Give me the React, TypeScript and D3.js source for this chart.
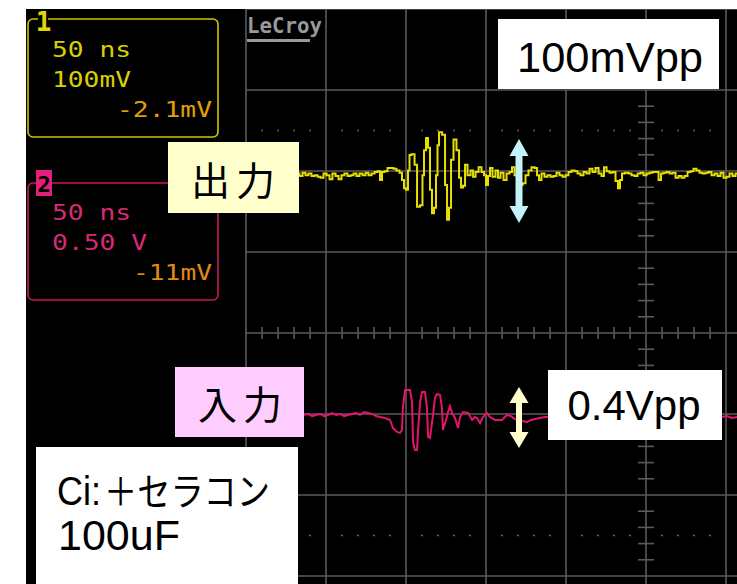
import React from "react";
import * as d3 from "d3";

// ---- Data ----
// Channel 1 (output): time in ns from left edge of graticule, value in mV
const ch1Time = [32.5,34.4,36.3,38.1,40,41.9,43.8,45.6,47.5,49.4,51.3,53.1,55,56.9,58.8,60.6,62.5,64.4,66.3,68.1,70,71.9,73.8,75.6,77.5,79.4,81.3,83.1,84.4,85.6,87.5,89.4,91.3,93.1,95,96.9,98.1,99.4,100.6,101.9,102.5,104.4,106.3,107.5,110,110.6,111.9,113.1,114.4,115.6,116.9,118.1,119.4,120,121.3,123.8,125,126.3,127.5,128.8,130.6,132.5,133.8,135,136.3,137.5,139.4,141.3,142.5,144.4,146.3,148.1,149.4,150.6,151.9,153.1,155,156.9,158.1,160,161.9,163.8,165.6,166.9,168.8,170.6,171.9,173.8,175.6,177.5,179.4,181.3,182.5,183.8,185.6,187.5,189.4,191.3,193.1,195,196.9,198.8,200.6,202.5,204.4,206.3,208.1,210,211.9,213.8,215.6,217.5,219.4,221.3,223.1,224.4,226.3,228.1,230,231.9,233.1,234.4,235.6,238.1,240,241.9,243.8,245.6,247.5,249.4,251.3,253.1,255,256.9,258.8,260,261.9,263.8,265.6,267.5,269.4,271.3,273.1,275,276.9,278.8,280.6,282.5,284.4,286.3,288.1,290,291.9,293.8,295.6,297.5,299.4,301.3,303.1,305,306.9];
const ch1Mv = [-2,-5,-1,-4,-2,-5,-4,-6,-7,-2,-4,-9,-2,-5,-9,-4,-2,-5,-4,-2,-5,-2,-4,-1,-4,-2,0,1,-10,0,1,5,5,4,2,-1,-10,-20,-22,2,21,22,9,-43,-41,-4,27,42,30,-22,-51,-44,-4,33,49,46,-16,-59,-44,15,40,27,-7,-19,-17,9,-4,2,-6,0,6,0,-4,-16,-5,5,-6,2,-7,-1,-10,-2,0,6,-4,0,-16,-14,-4,2,6,5,-4,-10,-2,-6,-4,-6,-5,-1,-4,-6,-4,0,2,1,-2,-4,0,-2,4,0,5,-2,-5,6,1,-1,0,-11,-20,-10,-2,-1,-2,-4,-5,-2,-1,-4,-2,-1,0,0,-10,-2,-1,0,-2,-1,-7,-5,-7,-5,0,1,4,2,-1,-2,-1,0,-4,-2,-5,-1,-7,-6,-2,-5,-2];

// Channel 2 (input): time in ns, value in mV
const ch2Time = [35.6,38.8,41.3,43.8,46.3,48.8,51.3,53.8,56.3,58.8,61.3,63.8,66.3,68.8,71.3,73.8,76.3,78.8,81.3,83.8,86.9,90,91.9,94.4,96.3,97.5,98.1,99.4,102.5,103.8,104.4,105.6,106.9,107.5,108.8,110,111.9,113.1,113.8,115,116.9,118.1,119.4,121.3,122.5,123.1,125,126.3,127.5,128.8,130.6,132.5,133.8,135.6,138.8,141.3,143.1,144.4,146.3,148.1,150.6,152.5,155.6,160,163.1,165.6,168.1,170.6,173.1,175.6,178.1,180.6,183.8,186.9,189.4,196.3,221.3,252.5,283.8,297.5,300.6,303.8,306.9];
const ch2Mv = [-12,-6,-19,-12,-6,-19,-12,0,-12,-6,-19,-12,-6,0,-12,6,0,-6,-19,-25,-31,-43,-93,-117,-123,-105,37,142,142,68,-179,-228,-228,-117,68,130,130,31,-148,-154,-12,93,117,111,31,-105,-43,6,43,0,-31,-93,-25,6,0,-43,-25,-31,-62,-25,0,-25,-43,-43,-12,-19,-37,-43,-49,-56,-43,-37,-31,-25,-25,-25,-25,-25,-25,-25,-19,-31,-25];

const ch1Lines = ["50 ns", "100mV", "-2.1mV"];
const ch2Lines = ["50 ns", "0.50 V", "-11mV"];
const outLabel = "出力";
const inLabel = "入力";
const ppOut = "100mVpp";
const ppIn = "0.4Vpp";
const noteLine1a = "Ci:";
const noteLine1b = "＋セラコン";
const noteLine2 = "100uF";

// ---- Geometry ----
const W = 737, H = 584;
const gridLeft = 246, divX = 80, gridTop = 9, divY = 81;

const x = d3.scaleLinear().domain([0, 500]).range([gridLeft, gridLeft + 10 * divX]);
const yDiv = d3.scaleLinear().domain([0, 8]).range([gridTop, gridTop + 8 * divY]);
const y1 = d3.scaleLinear().domain([-400, 400]).range([172 + 4 * divY, 172 - 4 * divY]);
const y2 = d3.scaleLinear().domain([-2000, 2000]).range([413 + 4 * divY, 413 - 4 * divY]);

const GRID = "#5a5a5a";
const mono = "'DejaVu Sans Mono', monospace";
const sans = "'Liberation Sans', Arial, sans-serif";
const cjk = "'Noto Sans CJK JP', sans-serif";

function dblArrow(cx: number, top: number, bottom: number, hw: number, hl: number, sw: number) {
  return [
    [cx, top], [cx + hw, top + hl], [cx + sw, top + hl], [cx + sw, bottom - hl],
    [cx + hw, bottom - hl], [cx, bottom], [cx - hw, bottom - hl], [cx - sw, bottom - hl],
    [cx - sw, top + hl], [cx - hw, top + hl],
  ].map((p) => p.join(",")).join(" ");
}

export default function App() {
  const vDivs = d3.range(0, 11);
  const hDivs = d3.range(0, 9);
  const xMinor = d3.range(0, 501, 10).filter((t) => t % 50 !== 0);
  const yMinor = d3.range(0, 8.01, 0.2).filter((d) => Math.abs(d - Math.round(d)) > 0.01);
  const dotRows = [1.5, 6.5];

  const line1 = d3.line<number>().x((_, i) => x(ch1Time[i])).y((v) => y1(v)).curve(d3.curveStep);
  const line2 = d3.line<number>().x((_, i) => x(ch2Time[i])).y((v) => y2(v));

  const cx = x(250);
  const cy = yDiv(4);

  return (
    <svg width={W} height={H} style={{ position: "absolute", left: 0, top: 0, display: "block" }}>
      <defs>
        <clipPath id="screen"><rect x={26} y={9} width={W - 26} height={H - 9} /></clipPath>
      </defs>
      <rect x={0} y={0} width={W} height={H} fill="#fff" />
      <rect x={26} y={9} width={W - 26} height={H - 9} fill="#000" />
      <g clipPath="url(#screen)">
        {/* graticule */}
        {vDivs.map((d) => (
          <line key={"v" + d} x1={x(d * 50)} x2={x(d * 50)} y1={gridTop} y2={H} stroke={GRID} strokeWidth={1.6} />
        ))}
        {hDivs.map((d) => (
          <line key={"h" + d} x1={gridLeft} x2={W} y1={yDiv(d)} y2={yDiv(d)} stroke={GRID} strokeWidth={1.6} />
        ))}
        {xMinor.map((t) => (
          <line key={"xm" + t} x1={x(t)} x2={x(t)} y1={cy - 6} y2={cy + 6} stroke={GRID} strokeWidth={1.6} />
        ))}
        {yMinor.map((d) => (
          <line key={"ym" + d} x1={cx - 8} x2={cx + 8} y1={yDiv(d)} y2={yDiv(d)} stroke={GRID} strokeWidth={1.6} />
        ))}
        {dotRows.map((r) =>
          xMinor.map((t) => (
            <rect key={"d" + r + "_" + t} x={x(t) - 0.75} y={yDiv(r) - 0.75} width={1.5} height={1.5} fill="#808080" />
          ))
        )}

        {/* LeCroy logo */}
        <text x={247} y={33} fill="#9a9a9a" fontFamily={mono} fontWeight="bold" fontSize={21} textLength={75} lengthAdjust="spacingAndGlyphs">LeCroy</text>
        <rect x={247} y={39} width={63} height={3} fill="#9a9a9a" />

        {/* CH1 descriptor */}
        <rect x={28} y={19} width={190} height={118} rx={5} fill="none" stroke="#d0c400" strokeWidth={1.6} />
        <rect x={38} y={11} width={10} height={12} fill="#000" />
        <text x={43.5} y={31} textAnchor="middle" fill="#e0d800" fontFamily={mono} fontWeight="bold" fontSize={26}>1</text>
        <text x={52} y={57} fill="#d8d000" fontFamily={mono} fontSize={21} textLength={79} lengthAdjust="spacingAndGlyphs">{ch1Lines[0]}</text>
        <text x={52} y={87} fill="#d8d000" fontFamily={mono} fontSize={21} textLength={79} lengthAdjust="spacingAndGlyphs">{ch1Lines[1]}</text>
        <text x={117} y={117} fill="#e0a000" fontFamily={mono} fontSize={21} textLength={95} lengthAdjust="spacingAndGlyphs">{ch1Lines[2]}</text>

        {/* CH2 descriptor */}
        <rect x={28} y={183} width={190} height={117} rx={5} fill="none" stroke="#c8185e" strokeWidth={1.6} />
        <rect x={36} y={170} width={16} height={26} fill="#e0207a" />
        <text x={44} y={192} textAnchor="middle" fill="#000" fontFamily={mono} fontWeight="bold" fontSize={22}>2</text>
        <text x={52} y={220} fill="#d82a70" fontFamily={mono} fontSize={21} textLength={79} lengthAdjust="spacingAndGlyphs">{ch2Lines[0]}</text>
        <text x={52} y={250} fill="#d82a70" fontFamily={mono} fontSize={21} textLength={95} lengthAdjust="spacingAndGlyphs">{ch2Lines[1]}</text>
        <text x={133} y={280} fill="#e08a10" fontFamily={mono} fontSize={21} textLength={79} lengthAdjust="spacingAndGlyphs">{ch2Lines[2]}</text>

        {/* traces */}
        <path d={line1(ch1Mv) || ""} fill="none" stroke="#e6df00" strokeWidth={2} />
        <path d={line2(ch2Mv) || ""} fill="none" stroke="#e4146c" strokeWidth={2} />

        {/* annotation boxes */}
        <rect x={168} y={142} width={131} height={71} fill="#ffffcc" />
        <text x={233} y={178} textAnchor="middle" dominantBaseline="central" fill="#000" fontFamily={cjk} fontSize={39} textLength={84} lengthAdjust="spacing">{outLabel}</text>

        <rect x={175} y={367} width={129} height={70} fill="#ffccff" />
        <text x={240} y={402} textAnchor="middle" dominantBaseline="central" fill="#000" fontFamily={cjk} fontSize={39} textLength={84} lengthAdjust="spacing">{inLabel}</text>

        <rect x={498} y={19} width={221} height={70} fill="#fff" />
        <text x={610} y={72} textAnchor="middle" fill="#000" fontFamily={sans} fontSize={43} textLength={186} lengthAdjust="spacingAndGlyphs">{ppOut}</text>

        <rect x={548} y={370} width={174} height={70} fill="#fff" />
        <text x={634} y={420} textAnchor="middle" fill="#000" fontFamily={sans} fontSize={42} textLength={133} lengthAdjust="spacingAndGlyphs">{ppIn}</text>

        <rect x={36} y={447} width={262} height={H - 447} fill="#fff" />
        <text x={57} y={505} fill="#000" fontFamily={sans} fontSize={41} textLength={44} lengthAdjust="spacingAndGlyphs">{noteLine1a}</text>
        <text x={104} y={505} fill="#000" fontFamily={cjk} fontSize={38} textLength={166} lengthAdjust="spacingAndGlyphs">{noteLine1b}</text>
        <text x={58} y={550} fill="#000" fontFamily={sans} fontSize={43}>{noteLine2}</text>

        {/* amplitude arrows */}
        <polygon points={dblArrow(519, 139, 223, 9.5, 17, 3.5)} fill="#c4f2f8" />
        <polygon points={dblArrow(519, 387, 448, 9.5, 16, 3)} fill="#ffffcc" />
      </g>
    </svg>
  );
}
